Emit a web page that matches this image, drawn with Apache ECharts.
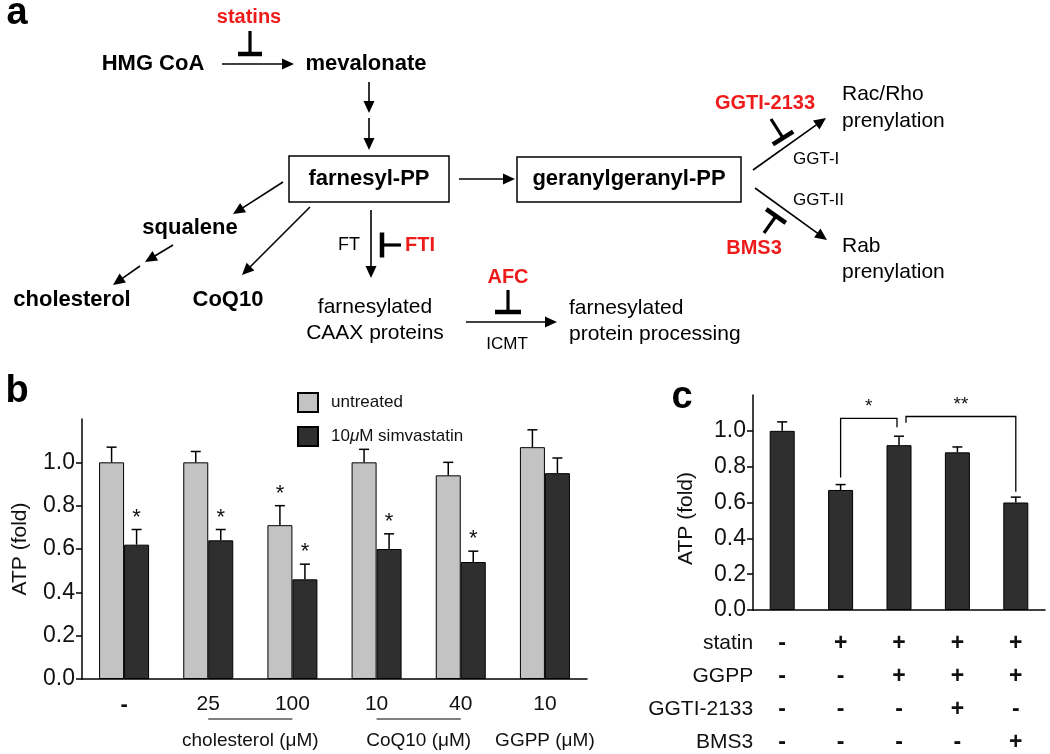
<!DOCTYPE html>
<html><head><meta charset="utf-8">
<script src="https://cdn.jsdelivr.net/npm/echarts@6/dist/echarts.min.js"></script>
<style>html,body{margin:0;padding:0;background:#fff}#c{width:1050px;height:754px}</style>
</head><body><div id="c"></div>
<script>
// ---------- Panel b data ----------
const bCategories = ['-', '25', '100', '10', '40', '10'];
const bUntreated = [1.00, 1.00, 0.71, 1.00, 0.94, 1.07];
const bUntreatedErr = [0.07, 0.05, 0.09, 0.06, 0.06, 0.08];
const bSimva = [0.62, 0.64, 0.46, 0.60, 0.54, 0.95];
const bSimvaErr = [0.07, 0.05, 0.07, 0.07, 0.05, 0.07];
const bUntreatedStars = ['', '', '*', '', '', ''];
const bSimvaStars = ['*', '*', '*', '*', '*', ''];
const bGroupLabels = ['cholesterol (μM)', 'CoQ10 (μM)', 'GGPP (μM)'];
const bGroupFrom = [1, 3, 5];
const bGroupTo = [2, 4, 5];
const seriesNames = ['untreated', '10μM simvastatin'];
const yTickValues = [0.0, 0.2, 0.4, 0.6, 0.8, 1.0];

// ---------- Panel c data ----------
const cValues = [1.00, 0.67, 0.92, 0.88, 0.60];
const cErr = [0.05, 0.03, 0.05, 0.03, 0.03];
const cRowLabels = ['statin', 'GGPP', 'GGTI-2133', 'BMS3'];
const cRows = [
  ['-', '+', '+', '+', '+'],
  ['-', '-', '+', '+', '+'],
  ['-', '-', '-', '+', '-'],
  ['-', '-', '-', '-', '+']
];
const cBracketFrom = [1, 2];
const cBracketTo = [2, 4];
const cBracketTop = [1.07, 1.08];
const cBracketFromEnd = [0.74, 1.045];
const cBracketToEnd = [1.02, 0.66];
const cBracketLabels = ['*', '**'];

// ---------- styles ----------
const FF = '"Liberation Sans", Arial, sans-serif';
const RED = '#ee1b1b';
const BAR_W = 25;
const GRAY = '#c3c3c3';
const DARK = '#2f2f2f';
const TXT = '#111';
const C_LABEL_MARGIN = 17;
const C_LINE_H = 33;

const cCategories = cValues.map((v, i) => cRows.map(r => r[i]).join('\n'));

// ---------- Panel a diagram (graphic) ----------
const G = [];
function txt(x, y, s, o) {
  o = o || {};
  G.push({type: 'text', x: x, y: y, silent: true, style: {
    text: s, fill: o.fill || '#000', fontFamily: FF, fontSize: o.size || 22,
    fontWeight: o.weight || 'bold', align: o.align || 'center', verticalAlign: 'middle'}});
}
function arrow(x1, y1, x2, y2) {
  const dx = x2 - x1, dy = y2 - y1, L = Math.hypot(dx, dy);
  const ux = dx / L, uy = dy / L, nx = -uy, ny = ux;
  const hl = 12, hw = 5.5;
  const bx = x2 - ux * hl, by = y2 - uy * hl;
  G.push({type: 'line', silent: true, shape: {x1: x1, y1: y1, x2: bx + ux, y2: by + uy}, style: {stroke: '#000', lineWidth: 1.6}});
  G.push({type: 'polygon', silent: true, shape: {points: [[x2, y2], [bx + nx * hw, by + ny * hw], [bx - nx * hw, by - ny * hw]]}, style: {fill: '#000'}});
}
function tbar(x1, y1, x2, y2, len) {
  const dx = x2 - x1, dy = y2 - y1, L = Math.hypot(dx, dy);
  const nx = -dy / L, ny = dx / L, h = len / 2;
  G.push({type: 'line', silent: true, shape: {x1: x1, y1: y1, x2: x2, y2: y2}, style: {stroke: '#000', lineWidth: 3.2}});
  G.push({type: 'line', silent: true, shape: {x1: x2 + nx * h, y1: y2 + ny * h, x2: x2 - nx * h, y2: y2 - ny * h}, style: {stroke: '#000', lineWidth: 4.5}});
}
function box(x, y, w, h) {
  G.push({type: 'rect', silent: true, shape: {x: x, y: y, width: w, height: h}, style: {fill: '#fff', stroke: '#000', lineWidth: 1.5}});
}

// panel letters
txt(17, 14, 'a', {size: 38});
txt(17, 392, 'b', {size: 38});
txt(682, 398, 'c', {size: 38});

txt(249, 17, 'statins', {size: 20, fill: RED});
tbar(250, 31, 250, 54, 24);
txt(153, 64, 'HMG CoA', {size: 22});
arrow(222, 64, 294, 64);
txt(366, 64, 'mevalonate', {size: 22});
arrow(369, 82, 369, 113);
arrow(369, 118, 369, 150);
box(289, 156, 160, 46);
txt(369, 179, 'farnesyl-PP', {size: 22});
arrow(459, 179, 515, 179);
box(517, 157, 224, 45);
txt(629, 179, 'geranylgeranyl-PP', {size: 22});

arrow(753, 170, 826, 118);
tbar(771, 119, 783, 138, 24);
txt(765, 103, 'GGTI-2133', {size: 20, fill: RED});
txt(842, 94, 'Rac/Rho', {size: 21, weight: 'normal', align: 'left'});
txt(842, 121, 'prenylation', {size: 21, weight: 'normal', align: 'left'});
txt(793, 159, 'GGT-I', {size: 17, weight: 'normal', align: 'left'});

arrow(755, 188, 827, 240);
tbar(764, 233, 776, 216, 24);
txt(754, 248, 'BMS3', {size: 20, fill: RED});
txt(793, 200, 'GGT-II', {size: 17, weight: 'normal', align: 'left'});
txt(842, 246, 'Rab', {size: 21, weight: 'normal', align: 'left'});
txt(842, 272, 'prenylation', {size: 21, weight: 'normal', align: 'left'});

arrow(371, 210, 371, 278);
txt(349, 245, 'FT', {size: 18, weight: 'normal'});
tbar(401, 245, 382, 245, 25);
txt(405, 245, 'FTI', {size: 20, fill: RED, align: 'left'});

arrow(283, 182, 233, 214);
txt(190, 228, 'squalene', {size: 22});
arrow(173, 245, 145, 262);
arrow(140, 266, 113, 285);
txt(72, 300, 'cholesterol', {size: 22});
arrow(310, 207, 242, 275);
txt(228, 300, 'CoQ10', {size: 22});

txt(375, 307, 'farnesylated', {size: 21, weight: 'normal'});
txt(375, 333, 'CAAX proteins', {size: 21, weight: 'normal'});
arrow(466, 322, 557, 322);
txt(507, 344, 'ICMT', {size: 17, weight: 'normal'});
txt(508, 277, 'AFC', {size: 20, fill: RED});
tbar(508, 290, 508, 312, 26);
txt(569, 308, 'farnesylated', {size: 21, weight: 'normal', align: 'left'});
txt(569, 334, 'protein processing', {size: 21, weight: 'normal', align: 'left'});

// ---------- render helpers ----------
function errRender(sign, stars) {
  return function (params, api) {
    const i = api.value(0), v = api.value(1), e = api.value(2);
    const base = api.coord([i, v]);
    const top = api.coord([i, v + e]);
    const x = base[0] + sign * BAR_W / 2;
    const ch = [
      {type: 'line', shape: {x1: x, y1: base[1], x2: x, y2: top[1]}, style: {stroke: '#000', lineWidth: 1.5}},
      {type: 'line', shape: {x1: x - 5, y1: top[1], x2: x + 5, y2: top[1]}, style: {stroke: '#000', lineWidth: 1.5}}
    ];
    const s = stars && stars[params.dataIndex];
    if (s) ch.push({type: 'text', x: x, y: top[1] - 1, style: {text: s, fontFamily: FF, fontSize: 22, fill: TXT, align: 'center', verticalAlign: 'bottom'}});
    return {type: 'group', children: ch};
  };
}
function sharedCat(c) {
  let n = 0;
  for (let k = 0; k < cBracketFrom.length; k++) { if (cBracketFrom[k] === c) n++; if (cBracketTo[k] === c) n++; }
  return n > 1;
}
function bracketRender(params, api) {
  const f = api.value(0), t = api.value(1), top = api.value(2), fe = api.value(3), te = api.value(4);
  const xl = api.coord([f, 0])[0] + (sharedCat(f) ? 7 : 0);
  const xr = api.coord([t, 0])[0] - (sharedCat(t) ? 2 : 0);
  const yt = api.coord([f, top])[1], yl = api.coord([f, fe])[1], yr = api.coord([t, te])[1];
  return {type: 'group', children: [
    {type: 'polyline', shape: {points: [[xl, yl], [xl, yt], [xr, yt], [xr, yr]]}, style: {stroke: '#000', lineWidth: 1.3, fill: 'none'}},
    {type: 'text', x: (xl + xr) / 2, y: yt - 2, style: {text: cBracketLabels[params.dataIndex], fontFamily: FF, fontSize: 19, fill: TXT, align: 'center', verticalAlign: 'bottom'}}
  ]};
}

function yAxisCfg(gi, gap, pad) {
  return {
    type: 'value', gridIndex: gi, min: 0, max: 1.2, interval: 0.2,
    axisLine: {show: true, lineStyle: {color: '#000', width: 1.5}},
    axisTick: {show: true, length: 6, lineStyle: {color: '#000', width: 1.5}, customValues: yTickValues},
    axisLabel: {customValues: yTickValues, formatter: v => v.toFixed(1), fontFamily: FF, fontSize: 23, color: TXT, margin: 7},
    splitLine: {show: false},
    name: 'ATP (fold)', nameLocation: 'middle', nameGap: gap,
    nameTextStyle: {fontFamily: FF, fontSize: 21, color: TXT, padding: pad}
  };
}

const chart = echarts.init(document.getElementById('c'), null, {renderer: 'canvas'});
const option = {
  animation: false,
  backgroundColor: '#fff',
  grid: [
    {left: 82, top: 419, width: 505, height: 260, containLabel: false, outerBoundsMode: 'none'},
    {left: 753, top: 395, width: 292, height: 215, containLabel: false, outerBoundsMode: 'none'}
  ],
  legend: {
    data: seriesNames, orient: 'vertical', left: 297, top: 392, padding: 0, icon: 'rect',
    itemWidth: 20, itemHeight: 19, itemGap: 13,
    formatter: n => n.replace('μ', '{i|μ}'),
    textStyle: {fontFamily: FF, fontSize: 17, color: TXT, padding: [0, 0, 0, 8],
      rich: {i: {fontFamily: FF, fontSize: 17, fontStyle: 'italic', color: TXT}}}
  },
  xAxis: [
    {type: 'category', gridIndex: 0, data: bCategories,
     axisLine: {lineStyle: {color: '#000', width: 1.5}},
     axisTick: {length: 6, lineStyle: {color: '#000', width: 1.5}},
     axisLabel: {fontFamily: FF, fontSize: 21, color: TXT, margin: 15,
       formatter: v => v === '-' ? '{b|-}' : v,
       rich: {b: {fontFamily: FF, fontSize: 22, fontWeight: 'bold', color: TXT}}}},
    {type: 'category', gridIndex: 1, data: cCategories,
     axisLine: {lineStyle: {color: '#000', width: 1.5}},
     axisTick: {length: 6, lineStyle: {color: '#000', width: 1.5}},
     axisLabel: {fontFamily: FF, fontSize: 23, fontWeight: 'bold', color: TXT, lineHeight: C_LINE_H, margin: C_LABEL_MARGIN}}
  ],
  yAxis: [yAxisCfg(0, 51, [0, 0, 0, 0]), yAxisCfg(1, 56, [0, 32, 0, 0])],
  series: [
    {name: seriesNames[0], type: 'bar', xAxisIndex: 0, yAxisIndex: 0, data: bUntreated, barWidth: BAR_W, barGap: '0%',
     itemStyle: {color: GRAY, borderColor: '#000', borderWidth: 1}},
    {name: seriesNames[1], type: 'bar', xAxisIndex: 0, yAxisIndex: 0, data: bSimva, barWidth: BAR_W, barGap: '0%',
     itemStyle: {color: DARK, borderColor: '#000', borderWidth: 1}},
    {type: 'custom', xAxisIndex: 0, yAxisIndex: 0, z: 5, renderItem: errRender(-1, bUntreatedStars),
     data: bUntreated.map((v, i) => [i, v, bUntreatedErr[i]])},
    {type: 'custom', xAxisIndex: 0, yAxisIndex: 0, z: 5, renderItem: errRender(1, bSimvaStars),
     data: bSimva.map((v, i) => [i, v, bSimvaErr[i]])},
    {type: 'bar', xAxisIndex: 1, yAxisIndex: 1, data: cValues, barWidth: BAR_W,
     itemStyle: {color: DARK, borderColor: '#000', borderWidth: 1}},
    {type: 'custom', xAxisIndex: 1, yAxisIndex: 1, z: 5, renderItem: errRender(0, null),
     data: cValues.map((v, i) => [i, v, cErr[i]])},
    {type: 'custom', xAxisIndex: 1, yAxisIndex: 1, z: 5, renderItem: bracketRender,
     data: cBracketFrom.map((f, i) => [f, cBracketTo[i], cBracketTop[i], cBracketFromEnd[i], cBracketToEnd[i]])}
  ],
  graphic: G
};
chart.setOption(option);

// group labels under panel b and row labels for panel c, positioned from the axes
const extra = [];
const bAxisY = chart.convertToPixel({yAxisIndex: 0}, 0);
for (let k = 0; k < bGroupLabels.length; k++) {
  const x1 = chart.convertToPixel({xAxisIndex: 0}, bGroupFrom[k]);
  const x2 = chart.convertToPixel({xAxisIndex: 0}, bGroupTo[k]);
  if (bGroupTo[k] !== bGroupFrom[k]) {
    extra.push({type: 'line', silent: true, shape: {x1: x1, y1: bAxisY + 40, x2: x2, y2: bAxisY + 40}, style: {stroke: '#000', lineWidth: 1.2}});
  }
  extra.push({type: 'text', silent: true, x: (x1 + x2) / 2, y: bAxisY + 62, style: {text: bGroupLabels[k], fontFamily: FF, fontSize: 19, fill: TXT, align: 'center', verticalAlign: 'middle'}});
}
const cAxisY = chart.convertToPixel({yAxisIndex: 1}, 0);
const cAxisX = chart.convertToPixel({xAxisIndex: 1}, 0) - 29;
for (let r = 0; r < cRowLabels.length; r++) {
  extra.push({type: 'text', silent: true, x: cAxisX, y: cAxisY + C_LABEL_MARGIN + C_LINE_H / 2 + r * C_LINE_H, style: {text: cRowLabels[r], fontFamily: FF, fontSize: 21, fill: TXT, align: 'right', verticalAlign: 'middle'}});
}
chart.setOption({graphic: G.concat(extra)});
</script>
</body></html>
